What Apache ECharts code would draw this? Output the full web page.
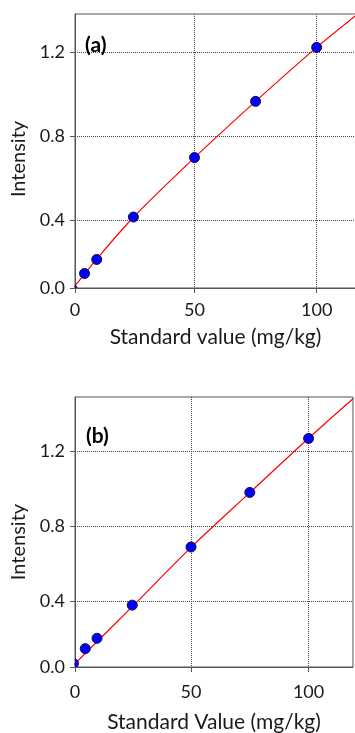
<!DOCTYPE html>
<html>
<head>
<meta charset="utf-8">
<script src="https://cdn.jsdelivr.net/npm/echarts@6/dist/echarts.min.js"></script>
<style>
  html, body { margin: 0; padding: 0; background: #fff; }
  #chart { width: 355px; height: 733px; }
</style>
</head>
<body>
<div id="chart"></div>
<script>
// panel (a)
const stdA = [0, 5, 10, 25, 50, 75, 100];
const intensityA = [0.07, 0.145, 0.212, 0.414, 0.697, 0.965, 1.222];
const fitA = [[0, 0.07], [10, 0.214], [25, 0.413], [50, 0.697], [75, 0.965], [100, 1.222], [116.1, 1.374]];

// panel (b)
const stdB = [0, 5, 10, 25, 50, 75, 100];
const intensityB = [0.069, 0.148, 0.203, 0.38, 0.69, 0.981, 1.269];
const fitB = [[0, 0.06], [25, 0.372], [50, 0.688], [75, 0.98], [100, 1.27], [118.9, 1.481]];

// axis ranges and ticks
const xRangeA = [1.1, 116.1];
const yRangeA = [0.076, 1.381];
const xRangeB = [0.64, 118.9];
const yRangeB = [0.05, 1.49];
const xTicksA = [xRangeA[0], 50, 100];
const xTicksB = [xRangeB[0], 50, 100];
const xTickLabels = ['0', '50', '100'];
const yTicksA = [yRangeA[0], 0.4, 0.8, 1.2];
const yTicksB = [yRangeB[0], 0.4, 0.8, 1.2];
const yTickLabels = ['0.0', '0.4', '0.8', '1.2'];

const font = 'Lato';
const textColor = '#1a1a1a';

const chart = echarts.init(document.getElementById('chart'));

// look a tick label up by its value
const labelFor = (ticks, labels) => (v) => {
  const i = ticks.findIndex((t) => Math.abs(t - v) < 1e-6);
  return i < 0 ? '' : labels[i];
};

function xAxis(gridIndex, range, ticks, name, labelMargin, nameGap) {
  return {
    type: 'value',
    gridIndex,
    min: range[0],
    max: range[1],
    name,
    nameLocation: 'middle',
    nameGap,
    nameTextStyle: { fontFamily: font, fontSize: 21, color: textColor },
    axisLine: { lineStyle: { color: '#555', width: 1 } },
    axisTick: { show: true, length: 5, customValues: ticks, lineStyle: { color: '#555' } },
    axisLabel: {
      show: true,
      customValues: ticks,
      margin: labelMargin,
      fontFamily: font,
      fontSize: 18,
      color: textColor,
      formatter: labelFor(ticks, xTickLabels)
    },
    splitLine: { show: true, lineStyle: { color: '#444', type: 'dotted', width: 1 } }
  };
}

function yAxis(gridIndex, range, ticks, namePad) {
  return {
    type: 'value',
    gridIndex,
    min: range[0],
    max: range[1],
    name: 'Intensity',
    nameLocation: 'middle',
    nameGap: 46,
    nameTextStyle: { fontFamily: font, fontSize: 20, color: textColor, padding: [0, namePad, 0, 0] },
    axisLine: { show: true, lineStyle: { color: '#555', width: 1 } },
    axisTick: { show: true, length: 5, customValues: ticks, lineStyle: { color: '#555' } },
    axisLabel: {
      show: true,
      customValues: ticks,
      margin: 10,
      fontFamily: font,
      fontSize: 18,
      color: textColor,
      formatter: labelFor(ticks, yTickLabels)
    },
    splitLine: { show: true, lineStyle: { color: '#444', type: 'dotted', width: 1 } }
  };
}

function dots(xi, yi, xs, ys) {
  return {
    type: 'custom',
    xAxisIndex: xi,
    yAxisIndex: yi,
    clip: true,
    z: 5,
    data: xs.map((x, i) => [x, ys[i]]),
    renderItem: (params, api) => {
      const p = api.coord([api.value(0), api.value(1)]);
      return {
        type: 'circle',
        shape: { cx: p[0], cy: p[1], r: 5 },
        style: { fill: '#0000ff', stroke: '#10103a', lineWidth: 1 }
      };
    }
  };
}

function fitLine(xi, yi, pts) {
  return {
    type: 'line',
    xAxisIndex: xi,
    yAxisIndex: yi,
    data: pts,
    smooth: 0.3,
    showSymbol: false,
    clip: true,
    lineStyle: { color: '#ff0000', width: 1.2 }
  };
}

chart.setOption({
  animation: false,
  title: [
    { text: '(a)', left: 80, top: 30, textStyle: { fontFamily: font, fontSize: 21, fontWeight: 'bold', color: '#000' } },
    { text: '(b)', left: 81, top: 421, textStyle: { fontFamily: font, fontSize: 21, fontWeight: 'bold', color: '#000' } }
  ],
  grid: [
    { left: 75, top: 14, right: -1, height: 274, show: true, borderColor: '#555', borderWidth: 1, outerBoundsMode: 'none' },
    { left: 75, top: 397, width: 278, height: 270, show: true, borderColor: '#555', borderWidth: 1, outerBoundsMode: 'none' }
  ],
  xAxis: [
    xAxis(0, xRangeA, xTicksA, 'Standard value (mg/kg)', 13, 39),
    xAxis(1, xRangeB, xTicksB, 'Standard Value (mg/kg)', 16, 45)
  ],
  yAxis: [
    yAxis(0, yRangeA, yTicksA, 16),
    yAxis(1, yRangeB, yTicksB, 20)
  ],
  series: [
    fitLine(0, 0, fitA),
    dots(0, 0, stdA, intensityA),
    fitLine(1, 1, fitB),
    dots(1, 1, stdB, intensityB)
  ]
});
</script>
</body>
</html>
